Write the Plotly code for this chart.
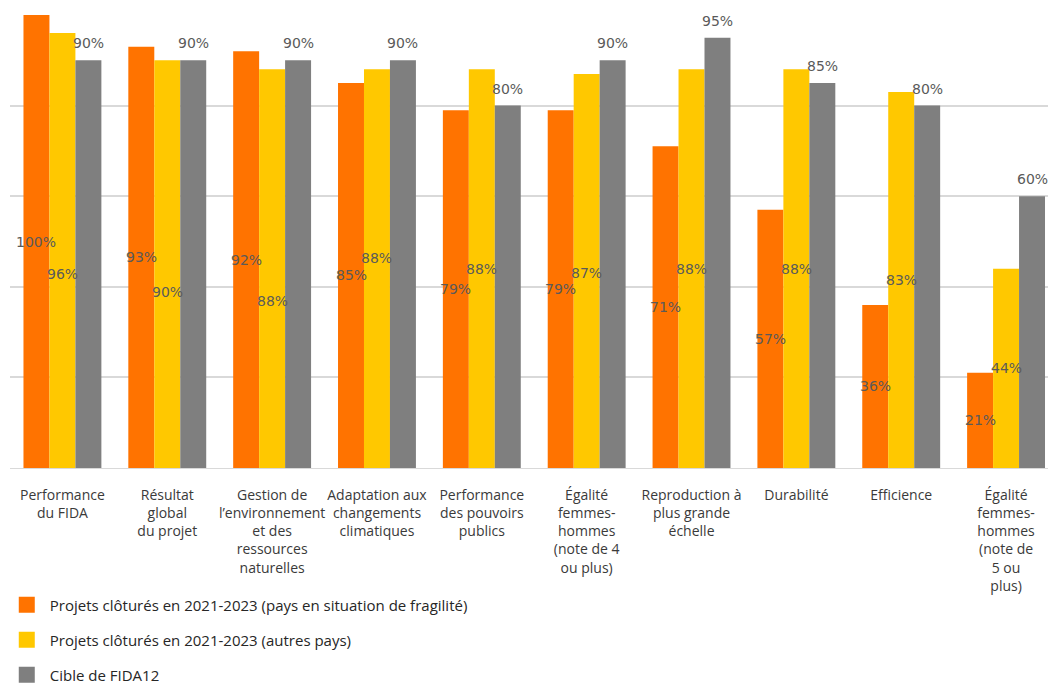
import plotly.graph_objects as go

# Data
categories = [
    "Performance<br>du FIDA",
    "Résultat<br>global<br>du projet",
    "Gestion de<br>l’environnement<br>et des<br>ressources<br>naturelles",
    "Adaptation aux<br>changements<br>climatiques",
    "Performance<br>des pouvoirs<br>publics",
    "Égalité<br>femmes-<br>hommes<br>(note de 4<br>ou plus)",
    "Reproduction à<br>plus grande<br>échelle",
    "Durabilité",
    "Efficience",
    "Égalité<br>femmes-<br>hommes<br>(note de<br>5 ou<br>plus)",
]
fragile = [100, 93, 92, 85, 79, 79, 71, 57, 36, 21]
autres = [96, 90, 88, 88, 88, 87, 88, 88, 83, 44]
cible = [90, 90, 90, 90, 80, 90, 95, 85, 80, 60]

series_names = [
    "Projets clôturés en 2021-2023 (pays en situation de fragilité)",
    "Projets clôturés en 2021-2023 (autres pays)",
    "Cible de FIDA12",
]
colors = ["#FF7300", "#FFC800", "#7F7F7F"]

# Vertical nudges (px) for the middle-series labels so they clear their neighbours
autres_label_shift = [-23, -28, -32, 11, 0, -2, 0, 0, 0, 0]

BARGAP = 0.257
bar_w = (1 - BARGAP) / 3
label_font = dict(family="DejaVu Sans", size=14, color="#5A5A5A")
text_font = "Open Sans"

fig = go.Figure()
for name, vals, col in zip(series_names, [fragile, autres, cible], colors):
    fig.add_trace(go.Bar(
        x=list(range(len(categories))), y=vals, name=name,
        marker=dict(color=col, line=dict(width=0)),
        showlegend=False, hoverinfo="y",
    ))
    # legend swatch
    fig.add_trace(go.Scatter(
        x=[None], y=[None], mode="markers", name=name,
        marker=dict(symbol="square", size=18, color=col),
        legendgroup=name, showlegend=True,
    ))

annotations = []
for i in range(len(categories)):
    annotations.append(dict(
        x=i - bar_w, y=fragile[i] / 2, text=f"{fragile[i]}%",
        showarrow=False, xanchor="center", yanchor="middle", font=label_font,
    ))
    annotations.append(dict(
        x=i, y=autres[i] / 2, yshift=autres_label_shift[i], text=f"{autres[i]}%",
        showarrow=False, xanchor="center", yanchor="middle", font=label_font,
    ))
    annotations.append(dict(
        x=i + bar_w, y=cible[i], yshift=7, text=f"{cible[i]}%",
        showarrow=False, xanchor="center", yanchor="bottom", font=label_font,
    ))

fig.update_layout(
    width=1048, height=684,
    margin=dict(l=10, r=0, t=15, b=216, autoexpand=False),
    paper_bgcolor="white", plot_bgcolor="white",
    barmode="group", bargap=BARGAP, bargroupgap=0,
    annotations=annotations,
    font=dict(family=text_font, size=15, color="#3A3A3A"),
    xaxis=dict(
        type="linear",
        tickmode="array",
        tickvals=list(range(len(categories))),
        ticktext=categories,
        range=[-0.5, 9.40],
        showgrid=False, zeroline=False,
        showline=True, linecolor="#D9D9D9", linewidth=1,
        ticks="", ticklabelstandoff=14, tickangle=0, automargin=False,
        tickfont=dict(family=text_font, size=14, color="#3A3A3A"),
        fixedrange=True,
    ),
    yaxis=dict(
        range=[0, 100], dtick=20,
        showgrid=True, gridcolor="#D9D9D9", gridwidth=1.5,
        zeroline=False, showticklabels=False, ticks="",
        fixedrange=True,
    ),
    legend=dict(
        orientation="v", x=-0.006, xanchor="left", y=-0.266, yanchor="top",
        font=dict(family=text_font, size=15, color="#262626"),
        tracegroupgap=12.5, bgcolor="rgba(0,0,0,0)",
        itemsizing="trace", itemwidth=36,
    ),
    showlegend=True,
)

fig.write_html("out.html")
